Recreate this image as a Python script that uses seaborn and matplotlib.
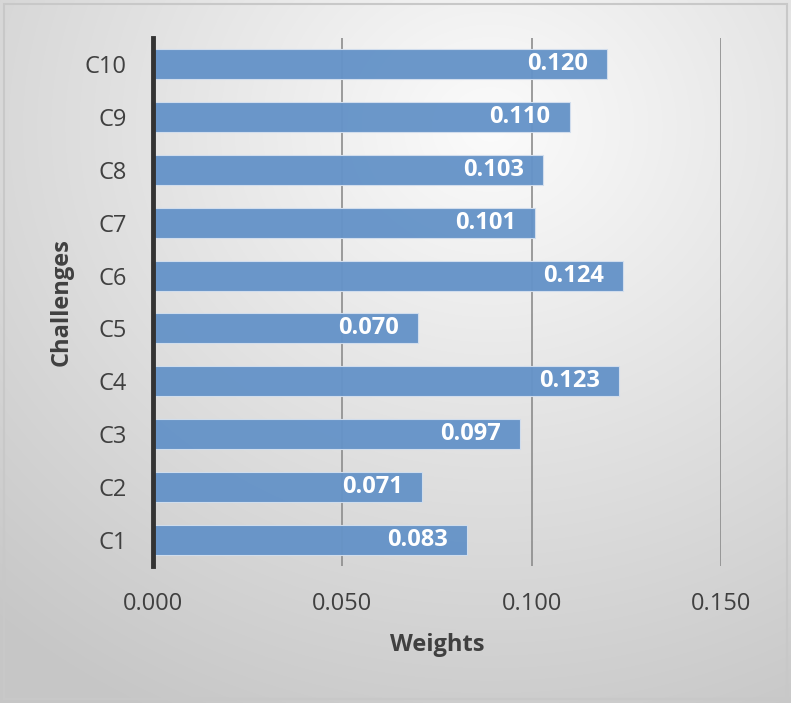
import numpy as np
import pandas as pd
import matplotlib
matplotlib.use("Agg")
import matplotlib.pyplot as plt
import seaborn as sns

categories = ["C10", "C9", "C8", "C7", "C6", "C5", "C4", "C3", "C2", "C1"]
weights = [0.120, 0.110, 0.103, 0.101, 0.124, 0.070, 0.123, 0.097, 0.071, 0.083]
xticks = [0.0, 0.05, 0.10, 0.15]
xtick_labels = ["0.000", "0.050", "0.100", "0.150"]

sns.set_theme(style="white")
plt.rcParams["font.family"] = ["Open Sans", "DejaVu Sans"]

df = pd.DataFrame({"Challenge": categories, "Weight": weights})

W, H = 791, 703
fig = plt.figure(figsize=(W / 100, H / 100), dpi=100)

# gradient background
bg = fig.add_axes([0, 0, 1, 1], zorder=-10)
yy, xx = np.mgrid[0:H, 0:W]
cx, cy = 0.62 * W, 0.18 * H
d = np.sqrt(((xx - cx) / W) ** 2 + ((yy - cy) / H) ** 2)
v = np.clip(0.985 - 0.22 * d, 0.78, 1.0)
img = np.dstack([v, v, v])
bg.imshow(img, extent=[0, W, H, 0], aspect="auto")
bg.add_patch(plt.Rectangle((4, 4), W - 8, H - 8, fill=False, edgecolor="#c8c8c8", lw=1.5))
bg.set_xlim(0, W)
bg.set_ylim(H, 0)
bg.axis("off")

ax = fig.add_axes([153 / W, 1 - 566 / H, (721 - 153) / W, (566 - 38) / H])
ax.patch.set_alpha(0)

sns.barplot(data=df, x="Weight", y="Challenge", orient="h", color="#6593c8",
            saturation=1, width=0.57, edgecolor="#d3dfee", linewidth=0.8,
            alpha=0.96, ax=ax, zorder=3)

ax.set_xlim(0, 0.15)
ax.set_xticks(xticks)
ax.set_xticklabels(xtick_labels, fontsize=17, color="#404040")
ax.tick_params(axis="x", length=0, pad=19)
ax.tick_params(axis="y", length=0, pad=19, labelsize=17, labelcolor="#404040")
for t in ax.get_yticklabels():
    t.set_color("#404040")

for xv in xticks[1:]:
    ax.axvline(xv, color="#8c8c8c", lw=1.2, zorder=1)

for s in ["top", "right", "bottom"]:
    ax.spines[s].set_visible(False)
ax.spines["left"].set_color("#333333")
ax.spines["left"].set_linewidth(3.5)
ax.spines["left"].set_zorder(5)

for i, w in enumerate(weights):
    ax.text(w - 0.005, i, f"{w:.3f}", ha="right", va="center", color="white",
            fontsize=17, fontweight="bold", zorder=6)

ax.set_xlabel("Weights", fontsize=17, fontweight="bold", color="#404040", labelpad=12)
ax.set_ylabel("Challenges", fontsize=17, fontweight="bold", color="#404040", labelpad=8)

fig.savefig("out.png", dpi=100)
